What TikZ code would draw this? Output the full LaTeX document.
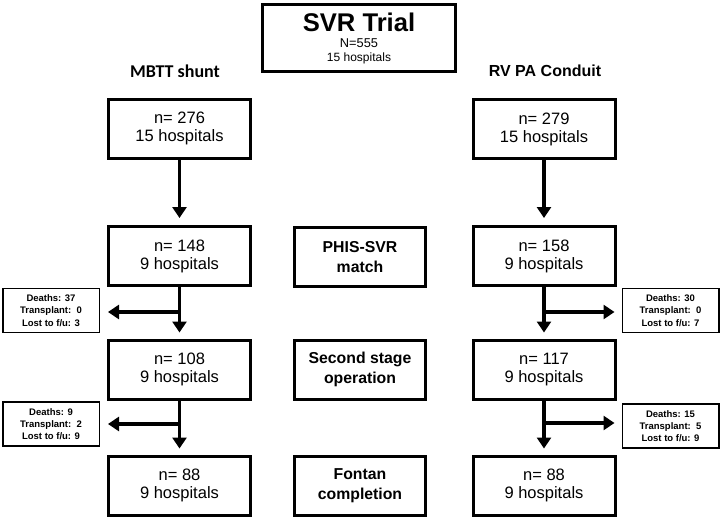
\documentclass[tikz,border=0pt]{standalone}
\usepackage{fontspec}
\setmainfont{Liberation Sans}
\newfontfamily\carl{Carlito}
\usetikzlibrary{arrows.meta}
\begin{document}
\begin{tikzpicture}[x=1pt,y=-1pt,
  mainbox/.style={draw, line width=3pt, minimum width=142pt, minimum height=59pt, align=center, inner sep=0pt, font=\fontsize{16.5}{18}\selectfont},
  midbox/.style={draw, line width=3pt, minimum width=131pt, minimum height=59pt, align=center, inner sep=0pt, font=\bfseries\fontsize{15.8}{20}\selectfont},
  sidebox/.style={draw, line width=1.5pt, minimum width=96.5pt, minimum height=44pt, align=center, inner sep=0pt, font=\bfseries\fontsize{9.5}{12.3}\selectfont},
  flow/.style={line width=3.5pt, -{Triangle[width=14pt,length=11pt]}},
  head/.style={font=\bfseries\fontsize{16}{18}\selectfont}
]
\useasboundingbox (0,0) rectangle (722,519);

% top box
\node[draw, line width=3pt, minimum width=193pt, minimum height=67pt] (top) at (359,38) {};
\node[anchor=base, font=\bfseries\fontsize{25.6}{28}\selectfont, inner sep=0pt] (svr) at (359,32) {SVR Trial};
\node[anchor=base, font=\fontsize{12.8}{13}\selectfont, inner sep=0pt] (nn) at (359,48) {N=555};
\node[anchor=base, font=\fontsize{12}{13}\selectfont, inner sep=0pt] (nh) at (359,61) {15 hospitals};

% headers
\node[font=\carl\bfseries\fontsize{18}{20}\selectfont] (lh) at (175,71) {MBTT shunt};
\node[head] (rh) at (545,71) {RV PA Conduit};

% left column
\node[mainbox] (l1) at (179.5,128.5) {n= 276\\15 hospitals};
\node[mainbox] (l2) at (179.5,256) {n= 148\\9 hospitals};
\node[mainbox] (l3) at (179.5,369.5) {n= 108\\9 hospitals};
\node[mainbox] (l4) at (179.5,485.5) {n= 88\\9 hospitals};

% right column
\node[mainbox] (r1) at (544,129) {n= 279\\15 hospitals};
\node[mainbox] (r2) at (544,256) {n= 158\\9 hospitals};
\node[mainbox] (r3) at (544,369.5) {n= 117\\9 hospitals};
\node[mainbox] (r4) at (544,485.5) {n= 88\\9 hospitals};

% middle
\node[midbox] (m2) at (360,257) {PHIS-SVR\\match};
\node[midbox] (m3) at (360,369.5) {Second stage\\operation};
\node[midbox] (m4) at (360,485.5) {Fontan\\completion};

% side boxes
\node[sidebox] (sl2) at (51,310.5) {Deaths: 37\\Transplant:\ \ 0\\Lost to f/u: 3};
\node[sidebox] (sl3) at (51,424) {Deaths: 9\\Transplant:\ \ 2\\Lost to f/u: 9};
\node[sidebox] (sr2) at (670.5,310.5) {Deaths: 30\\Transplant:\ \ 0\\Lost to f/u: 7};
\node[sidebox] (sr3) at (670.5,426) {Deaths: 15\\Transplant:\ \ 5\\Lost to f/u: 9};

% vertical arrows
\draw[flow, shorten >=7pt] (l1) -- (l2);
\draw[flow, shorten >=6pt] (l2) -- (l3);
\draw[flow, shorten >=6pt] (l3) -- (l4);
\draw[flow, shorten >=7pt] (r1) -- (r2);
\draw[flow, shorten >=6pt] (r2) -- (r3);
\draw[flow, shorten >=6pt] (r3) -- (r4);

% branch arrows
\coordinate (bl2) at (179.5,312);
\coordinate (bl3) at (179.5,424);
\coordinate (br2) at (544,312);
\coordinate (br3) at (544,423);
\draw[flow, shorten >=8pt] (bl2) -- (bl2 -| sl2.east);
\draw[flow, shorten >=8pt] (bl3) -- (bl3 -| sl3.east);
\draw[flow, shorten >=7pt] (br2) -- (br2 -| sr2.west);
\draw[flow, shorten >=7pt] (br3) -- (br3 -| sr3.west);
\end{tikzpicture}
\end{document}
